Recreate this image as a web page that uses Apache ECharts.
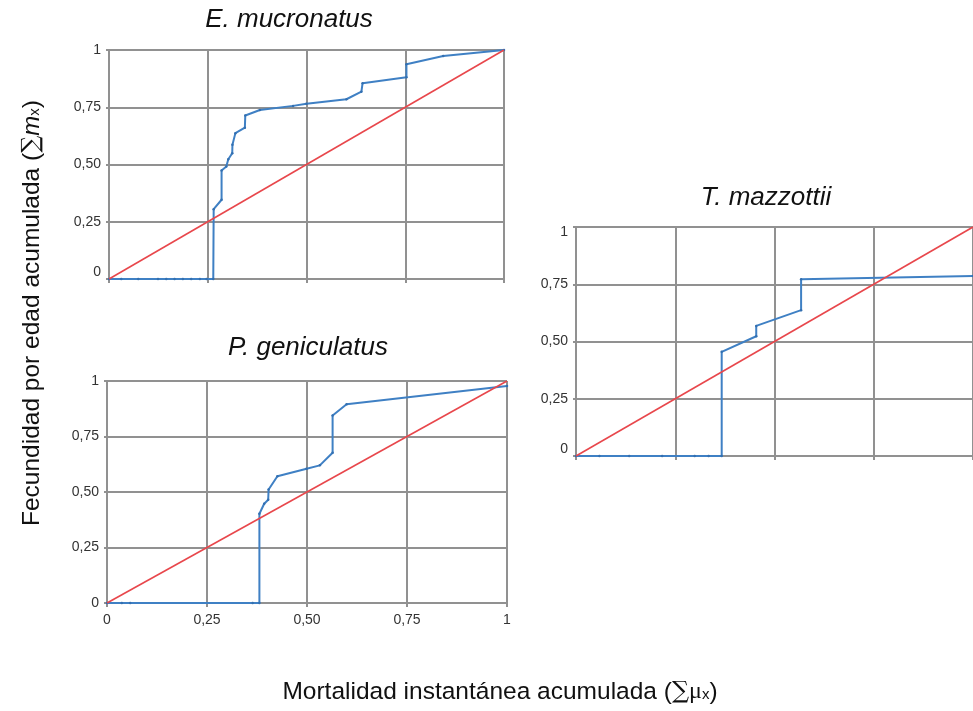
<!DOCTYPE html>
<html>
<head>
<meta charset="utf-8">
<script src="https://cdn.jsdelivr.net/npm/echarts@6/dist/echarts.min.js"></script>
<style>
  html, body { margin: 0; padding: 0; background: #fff; }
  #chart { width: 973px; height: 711px; }
</style>
</head>
<body>
<div id="chart"></div>
<script>
// Cumulative fecundity (Σmx) against cumulative instantaneous mortality (Σμx)
const titles = ['E. mucronatus', 'P. geniculatus', 'T. mazzottii'];
const tickValues = [0, 0.25, 0.5, 0.75, 1];

// E. mucronatus
const mucX = [0, 0.031, 0.074, 0.124, 0.145, 0.166, 0.187, 0.208, 0.230, 0.247, 0.264,
              0.265, 0.285, 0.285, 0.297, 0.302, 0.312, 0.3125, 0.320, 0.344, 0.345,
              0.382, 0.466, 0.5, 0.601, 0.639, 0.642, 0.753, 0.753, 0.846, 1];
const mucY = [0, 0, 0, 0, 0, 0, 0, 0, 0, 0, 0,
              0.305, 0.346, 0.474, 0.491, 0.523, 0.549, 0.586, 0.637, 0.661, 0.714,
              0.738, 0.756, 0.765, 0.785, 0.818, 0.855, 0.881, 0.9375, 0.974, 1];

// P. geniculatus
const genX = [0, 0.037, 0.058, 0.364, 0.381, 0.381, 0.393, 0.403, 0.404, 0.426,
              0.499, 0.532, 0.564, 0.564, 0.599, 1];
const genY = [0, 0, 0, 0, 0, 0.402, 0.447, 0.465, 0.511, 0.571,
              0.605, 0.620, 0.677, 0.845, 0.895, 0.978];

// T. mazzottii
const mazX = [0, 0.059, 0.134, 0.217, 0.299, 0.334, 0.367, 0.367, 0.454, 0.454, 0.567, 0.567, 1];
const mazY = [0, 0, 0, 0, 0, 0, 0, 0.455, 0.523, 0.568, 0.637, 0.772, 0.786];

// 1:1 reference line
const diagX = [0, 1];
const diagY = [0, 1];

const pairs = (xs, ys) => xs.map((x, i) => [x, ys[i]]);

const FONT = 'Liberation Sans, Arial, sans-serif';
const GRID_COLOR = '#919191';
const BLUE = '#3f80c4';
const RED = '#e8474c';
const LABEL_COLOR = '#333333';

const fmt = v => v === 0 ? '0' : v === 1 ? '1' : v.toFixed(2).replace('.', ',');

const labelRich = {
  n:  { fontSize: 14, color: LABEL_COLOR, fontFamily: FONT },
  lo: { fontSize: 14, color: LABEL_COLOR, fontFamily: FONT, padding: [0, 0, 14, 0] },
  hi: { fontSize: 14, color: LABEL_COLOR, fontFamily: FONT, padding: [10, 0, 0, 0] }
};

function yAxisFor(idx, raiseZero, lowerOne) {
  return {
    type: 'value', gridIndex: idx, min: 0, max: 1, interval: 0.25,
    axisLine: { show: true, lineStyle: { color: GRID_COLOR, width: 2 } },
    axisTick: { show: true, length: 3, lineStyle: { color: GRID_COLOR, width: 2 } },
    splitLine: { show: true, lineStyle: { color: GRID_COLOR, width: 2 } },
    axisLabel: {
      margin: 8, fontSize: 14, color: LABEL_COLOR, fontFamily: FONT,
      formatter: v => {
        if (v === 0 && raiseZero) return '{lo|0}';
        if (v === 1 && lowerOne) return '{hi|1}';
        return '{n|' + fmt(v) + '}';
      },
      rich: labelRich
    }
  };
}

function xAxisFor(idx, showLabels) {
  return {
    type: 'value', gridIndex: idx, min: 0, max: 1, interval: 0.25,
    axisLine: { show: true, lineStyle: { color: GRID_COLOR, width: 2 } },
    axisTick: { show: true, length: 4, lineStyle: { color: GRID_COLOR, width: 2 } },
    splitLine: { show: true, lineStyle: { color: GRID_COLOR, width: 2 } },
    axisLabel: {
      show: showLabels, margin: 10, fontSize: 14, color: LABEL_COLOR, fontFamily: FONT,
      formatter: fmt
    }
  };
}

function curve(idx, xs, ys) {
  return {
    type: 'line', xAxisIndex: idx, yAxisIndex: idx,
    data: pairs(xs, ys),
    symbol: 'circle', symbolSize: 2.5, showSymbol: true,
    itemStyle: { color: '#336fb0' },
    lineStyle: { color: BLUE, width: 2 },
    animation: false, z: 3
  };
}

function diagonal(idx) {
  return {
    type: 'line', xAxisIndex: idx, yAxisIndex: idx,
    data: pairs(diagX, diagY),
    symbol: 'none',
    lineStyle: { color: RED, width: 1.6 },
    animation: false, z: 4
  };
}

const titleStyle = { fontSize: 26, fontStyle: 'italic', fontFamily: FONT, fill: '#111',
                     align: 'center', verticalAlign: 'middle' };

const option = {
  backgroundColor: '#ffffff',
  animation: false,
  grid: [
    { left: 109, top: 50, width: 395, height: 229 },
    { left: 107, top: 381, width: 400, height: 222 },
    { left: 576, top: 227, width: 402, height: 229 }
  ],
  xAxis: [xAxisFor(0, false), xAxisFor(1, true), xAxisFor(2, false)],
  yAxis: [yAxisFor(0, true, false), yAxisFor(1, false, false), yAxisFor(2, true, true)],
  series: [
    curve(0, mucX, mucY), diagonal(0),
    curve(1, genX, genY), diagonal(1),
    curve(2, mazX, mazY), diagonal(2)
  ],
  graphic: [
    { type: 'text', x: 289, y: 20, style: Object.assign({ text: titles[0] }, titleStyle) },
    { type: 'text', x: 308, y: 348, style: Object.assign({ text: titles[1] }, titleStyle) },
    { type: 'text', x: 766, y: 198, style: Object.assign({ text: titles[2] }, titleStyle) },
    {
      type: 'text', x: 500, y: 692,
      style: {
        text: '{a|Mortalidad instantánea acumulada (}{s|∑}{m|μ}{b|x}{a|)}',
        align: 'center', verticalAlign: 'middle',
        rich: {
          a: { fontSize: 24.5, fontFamily: FONT, fill: '#111' },
          s: { fontSize: 24, fontFamily: 'DejaVu Serif, serif', fill: '#111' },
          m: { fontSize: 24, fontFamily: 'Liberation Serif, serif', fill: '#111' },
          b: { fontSize: 15, fontFamily: FONT, fill: '#111', padding: [6, 0, 0, 0] }
        }
      }
    },
    {
      type: 'text', x: 32, y: 313, rotation: Math.PI / 2,
      style: {
        text: '{a|Fecundidad por edad acumulada (}{s|∑}{m|m}{b|x}{a|)}',
        align: 'center', verticalAlign: 'middle',
        rich: {
          a: { fontSize: 24.5, fontFamily: FONT, fill: '#111' },
          s: { fontSize: 24, fontFamily: 'DejaVu Serif, serif', fill: '#111' },
          m: { fontSize: 24, fontFamily: FONT, fontStyle: 'italic', fill: '#111' },
          b: { fontSize: 15, fontFamily: FONT, fill: '#111', padding: [6, 0, 0, 0] }
        }
      }
    }
  ]
};

const chart = echarts.init(document.getElementById('chart'), null, { renderer: 'canvas' });
chart.setOption(option);
</script>
</body>
</html>
